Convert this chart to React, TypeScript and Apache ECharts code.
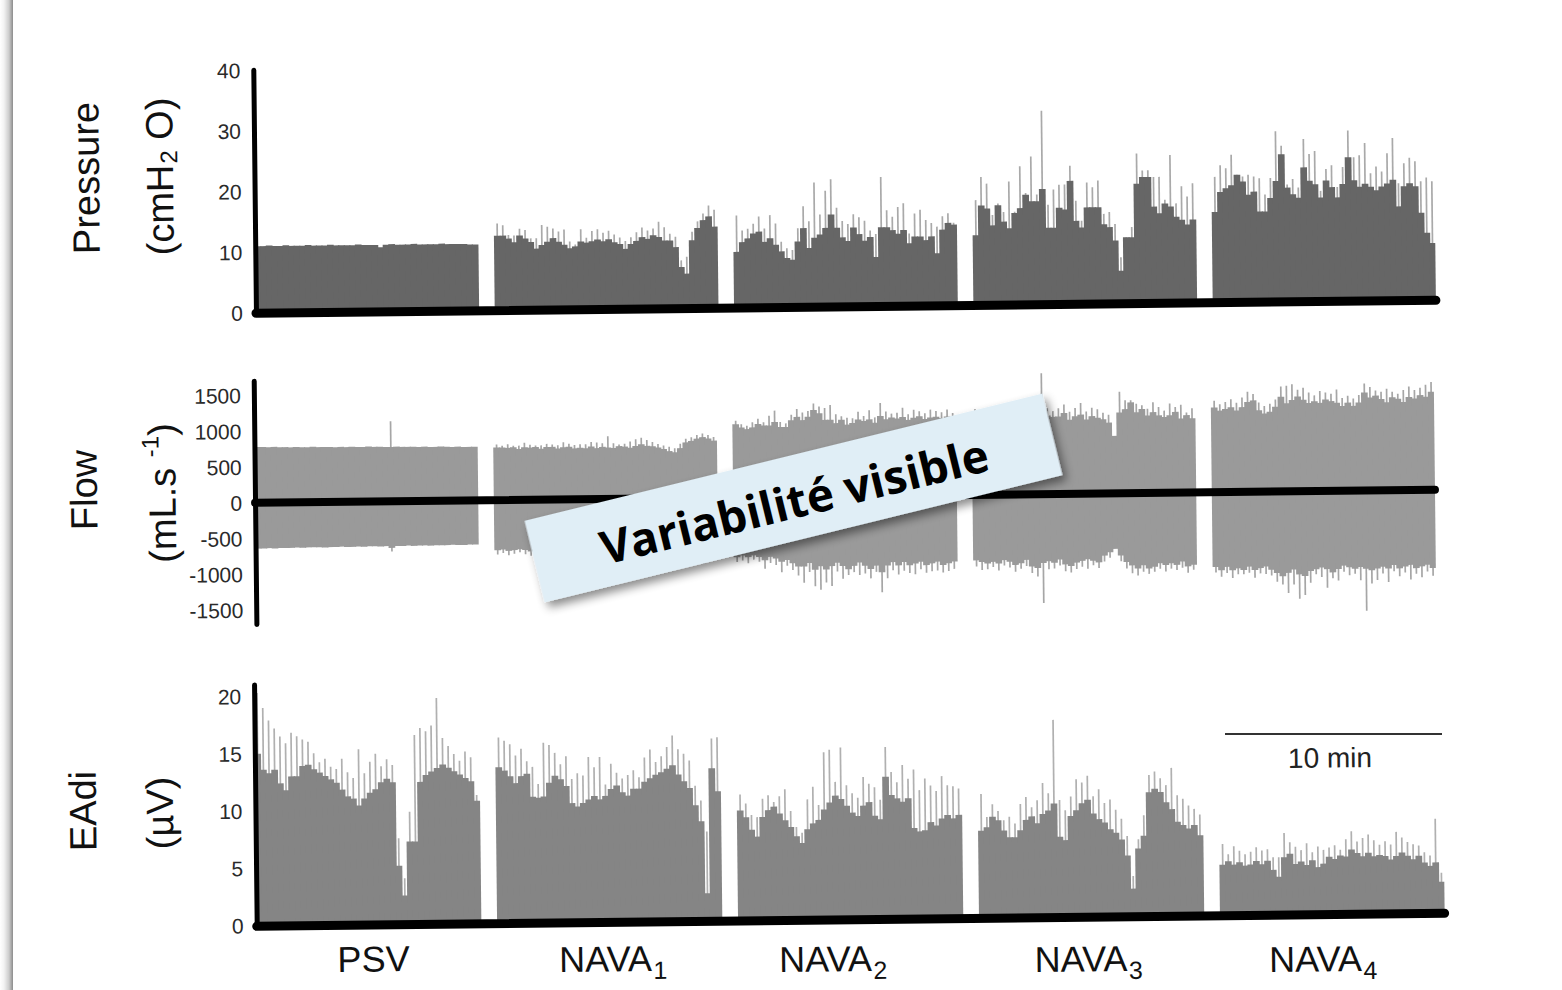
import React, { useEffect, useRef } from 'react';
import * as echarts from 'echarts';

// ---------------- data ----------------
const segmentNames = ['PSV', 'NAVA', 'NAVA', 'NAVA', 'NAVA'];
const segmentSubscripts = ['', '1', '2', '3', '4'];
const pressureTicks = [0, 10, 20, 30, 40];
const flowTicks = [-1500, -1000, -500, 0, 500, 1000, 1500];
const eadiTicks = [0, 5, 10, 15, 20];
const scaleBarText = '10 min';
const annotationText = 'Variabilité visible';

// Pressure (cmH2O): envelope per breath group, and light spikes above it
const pressureBase = [
  [11.0,11.0,11.1,11.0,11.0,11.1,11.0,11.0,11.0,11.1,11.0,11.0,11.0,11.1,11.0,11.0,11.0,11.0,11.1,11.0,11.0,11.0,10.6,11.0,11.1,11.0,11.0,11.0,11.1,11.0,11.0,11.0,11.0,11.1,11.0,11.0,11.0,11.0,10.9,10.9],
  [12.3,12.3,11.8,11.2,12.3,11.8,11.2,10.1,10.7,11.2,11.8,11.2,10.7,10.1,10.4,11.2,11.0,11.2,11.5,11.2,11.5,11.0,10.7,9.9,10.7,11.2,11.8,11.5,12.1,11.8,11.2,11.2,10.1,6.8,5.7,11.2,13.2,14.5,15.1,13.4],
  [9.2,10.8,11.4,12.2,12.5,10.8,11.4,10.3,9.2,8.1,7.8,10.8,13.0,9.7,11.4,11.9,13.0,15.2,13.0,11.4,10.8,13.0,11.9,10.8,11.4,8.1,13.0,13.0,12.5,11.9,12.5,10.3,11.4,11.4,10.8,11.4,8.6,12.5,13.6,13.3],
  [11.5,16.4,15.9,13.1,16.4,13.7,12.6,15.1,15.9,18.1,17.0,17.0,19.0,12.6,12.6,15.9,15.6,20.3,13.7,12.6,15.9,15.9,15.9,13.1,12.6,10.4,5.4,10.9,10.9,19.7,20.8,20.8,15.9,14.8,16.4,15.9,14.2,13.7,12.9,13.7],
  [14.9,18.2,18.8,19.3,21.0,19.9,17.7,18.2,14.9,14.9,17.1,19.9,24.3,18.8,17.7,17.1,22.1,19.9,19.3,17.1,19.9,18.8,17.1,19.3,23.7,19.9,18.8,19.3,18.8,18.2,18.8,19.3,19.9,15.5,18.8,19.3,18.8,14.4,11.1,9.4],
];
const pressurePeak = [
  [null,null,null,null,null,null,null,null,null,null,null,null,null,null,null,null,null,null,null,null,null,null,null,null,null,null,null,null,null,null,null,null,null,null,null,null,null,null,null,null],
  [14.3,14.0,12.4,12.3,13.4,13.2,11.8,11.8,14.0,13.7,13.4,12.9,13.2,11.2,10.7,13.2,11.8,12.9,13.2,12.6,12.9,12.3,11.8,11.2,11.8,12.6,13.4,12.9,13.2,14.3,13.4,12.3,11.8,7.9,8.5,12.6,14.3,15.6,16.9,16.2],
  [15.2,12.7,13.0,13.8,15.0,13.0,15.2,13.8,10.8,9.7,9.4,13.0,16.6,14.1,20.5,15.2,19.1,21.0,16.3,14.1,13.6,15.2,14.7,14.1,12.5,11.9,21.3,15.8,14.7,16.3,16.9,11.9,15.2,15.8,14.1,13.6,13.0,14.7,15.2,13.6],
  [17.3,21.1,20.0,14.8,16.7,15.3,20.3,15.3,22.8,18.4,24.4,18.1,31.9,16.4,18.9,19.7,19.7,22.8,17.0,13.7,20.0,19.2,20.3,14.8,15.1,13.1,7.6,10.9,12.6,24.7,21.9,21.9,20.8,20.8,17.0,24.4,16.4,19.2,17.5,19.7],
  [20.7,22.6,22.1,24.3,21.0,20.7,21.0,20.7,20.4,17.7,20.4,28.1,25.7,19.3,20.2,18.8,26.8,24.3,24.8,18.2,21.8,22.4,18.8,22.1,28.1,23.7,24.0,26.0,21.0,22.1,21.3,24.3,26.8,19.3,22.6,23.5,22.9,19.6,20.2,19.6],
];

// Flow (mL/s): inspiratory (positive) and expiratory (negative) envelopes and spikes
const flowPos = [
  [780,780,775,780,775,775,770,775,770,770,775,770,770,770,765,770,765,770,765,765,770,765,765,760,760,765,760,760,760,755,760,755,755,760,755,750,755,750,750,750],
  [737,737,730,737,713,737,730,737,713,737,737,713,730,737,713,720,713,737,713,730,720,713,737,730,713,737,760,737,730,713,690,660,644,700,780,800,830,850,830,800],
  [1026,979,956,979,1026,1003,1003,1050,979,979,1073,1119,1073,1119,1212,1166,1073,1073,1026,1073,1003,1026,1073,1050,1073,1026,1119,1073,1096,1080,1100,1060,1090,1110,1070,1090,1100,1080,1100,1090],
  [1100,1120,1080,1100,1130,1090,1110,1080,1120,1100,1140,1090,1150,1100,1080,1084,1131,1038,1084,1107,1038,1084,1061,1038,991,805,1131,1177,1270,1131,1177,1084,1131,1084,1061,1084,1131,1038,1084,1038],
  [1187,1141,1164,1187,1141,1187,1257,1280,1141,1094,1117,1187,1327,1234,1280,1327,1280,1234,1257,1234,1280,1257,1234,1187,1234,1187,1234,1373,1303,1327,1280,1234,1303,1280,1234,1303,1280,1327,1303,1373],
];
const flowPosPeak = [
  [null,null,null,null,null,null,null,null,null,null,null,null,null,null,null,null,null,null,null,null,null,null,null,null,1120,null,null,null,null,null,null,null,null,null,null,null,null,null,null,null],
  [780,760,780,760,760,800,770,760,760,780,770,760,800,780,760,770,770,800,790,780,876,780,760,770,800,830,850,820,790,760,740,720,700,760,830,850,880,900,880,850],
  [1073,1026,1003,1050,1100,1050,1140,1210,1050,1030,1150,1230,1180,1200,1305,1260,1240,1280,1150,1120,1100,1090,1180,1120,1200,1100,1300,1180,1150,1160,1230,1140,1200,1180,1150,1200,1180,1160,1200,1150],
  [1200,1180,1150,1220,1200,1170,1250,1160,1230,1180,1250,1300,1690,1200,1160,1200,1250,1150,1200,1270,1150,1200,1180,1130,1100,null,1420,1300,1300,1250,1230,1180,1270,1200,1150,1250,1200,1230,1120,1180],
  [1280,1230,1260,1300,1250,1320,1400,1370,1250,1200,1230,1290,1470,1480,1500,1420,1450,1380,1340,1400,1380,1360,1420,1300,1330,1290,1340,1500,1450,1400,1380,1420,1380,1350,1400,1450,1400,1430,1470,1510],
];
const flowNeg = [
  [-640,-640,-635,-640,-635,-635,-635,-630,-635,-630,-630,-630,-635,-630,-630,-625,-630,-630,-625,-630,-625,-625,-630,-625,-650,-625,-625,-620,-625,-620,-620,-625,-620,-620,-620,-615,-620,-620,-615,-615],
  [-700,-690,-710,-700,-690,-700,-720,-700,-690,-700,-700,-690,-700,-710,-690,-700,-700,-710,-690,-700,-700,-690,-710,-700,-690,-700,-720,-700,-690,-700,-680,-660,-650,-700,-760,-780,-800,-820,-800,-780],
  [-834,-810,-834,-810,-834,-880,-834,-857,-903,-880,-926,-973,-973,-926,-1020,-973,-1020,-973,-926,-973,-1020,-973,-926,-973,-1020,-973,-1066,-973,-926,-973,-926,-973,-950,-926,-973,-950,-926,-973,-950,-926],
  [-915,-938,-961,-938,-961,-915,-938,-984,-961,-915,-1008,-1031,-961,-938,-961,-915,-984,-1008,-961,-938,-915,-938,-961,-868,-822,-775,-868,-961,-1008,-1054,-1008,-1054,-1031,-984,-1008,-984,-1008,-961,-1031,-1008],
  [-1044,-1091,-1044,-1091,-1067,-1091,-1044,-1091,-1067,-1044,-1091,-1137,-1184,-1137,-1091,-1160,-1184,-1114,-1091,-1067,-1091,-1137,-1091,-1044,-1067,-1091,-1067,-1091,-1114,-1091,-1067,-1091,-1044,-1091,-1067,-1044,-1091,-1067,-1044,-1091],
];
const flowNegPeak = [
  [null,null,null,null,null,null,null,null,null,null,null,null,null,null,null,null,null,null,null,null,null,null,null,null,-700,null,null,null,null,null,null,null,null,null,null,null,null,null,null,null],
  [-760,-740,-770,-750,-730,-760,-780,-750,-740,-760,-750,-740,-770,-760,-740,-750,-760,-770,-740,-750,-760,-740,-770,-750,-740,-760,-780,-750,-740,-760,-730,-710,-700,-760,-830,-860,-900,-920,-880,-850],
  [-900,-880,-920,-870,-900,-1000,-920,-950,-1050,-960,-1020,-1100,-1200,-1050,-1250,-1300,-1200,-1250,-1050,-1150,-1100,-1060,-1100,-1080,-1150,-1060,-1345,-1150,-1040,-1100,-1050,-1080,-1100,-1030,-1080,-1060,-1050,-1080,-1060,-1030],
  [-1000,-1050,-1040,-1010,-1060,-990,-1020,-1080,-1040,-1000,-1100,-1150,-1520,-1050,-1040,-1000,-1080,-1100,-1050,-1020,-1050,-1000,-1040,-950,-900,null,-950,-1050,-1120,-1150,-1100,-1130,-1100,-1060,-1100,-1060,-1080,-1050,-1120,-1080],
  [-1120,-1180,-1130,-1200,-1150,-1150,-1130,-1200,-1140,-1150,-1170,-1260,-1300,-1420,-1300,-1500,-1450,-1280,-1160,-1200,-1350,-1220,-1250,-1130,-1180,-1160,-1250,-1680,-1300,-1250,-1160,-1280,-1130,-1200,-1150,-1250,-1170,-1220,-1140,-1200],
];

// EAdi (µV)
const eadiBase = [
  [15.0,13.6,13.3,13.6,12.4,11.8,13.0,13.0,13.9,14.0,13.6,13.3,13.0,12.7,12.4,11.8,11.2,11.0,10.4,11.0,11.5,11.8,12.4,12.7,12.4,5.1,2.5,7.2,7.2,12.4,13.0,13.3,13.6,13.9,13.6,13.3,13.0,12.7,12.4,10.7],
  [13.6,13.3,12.8,12.2,12.8,13.0,11.0,10.9,11.0,12.2,12.8,12.5,11.9,10.4,10.1,10.4,10.7,11.0,10.7,11.0,11.6,11.9,11.3,11.0,11.6,11.6,12.2,12.5,12.8,13.0,13.3,13.6,12.8,12.2,11.6,10.1,8.7,2.4,13.3,11.3],
  [9.6,9.0,7.9,7.3,9.0,9.6,9.9,9.3,8.7,8.1,7.3,6.7,7.9,8.4,8.7,9.6,10.2,10.8,10.5,9.9,9.3,9.0,9.9,10.2,9.0,8.7,12.4,10.8,10.5,10.2,10.5,7.9,7.6,7.7,8.4,8.1,8.7,9.0,8.7,9.0],
  [7.6,7.9,8.8,8.5,7.6,7.0,7.0,7.6,8.5,8.8,8.2,9.0,9.3,9.9,7.0,6.7,8.8,9.3,9.9,10.2,9.0,8.5,8.2,7.6,7.3,6.7,5.3,2.4,5.9,7.0,10.8,11.1,10.8,9.9,9.3,8.2,7.9,7.6,7.9,7.0],
  [4.4,4.7,4.4,4.6,4.3,4.4,4.7,4.4,4.7,3.9,3.3,5.0,5.3,4.4,4.6,4.3,4.7,4.1,4.4,5.0,4.8,5.1,5.0,5.6,5.3,5.0,5.3,5.0,5.1,5.0,4.7,5.0,5.3,5.0,4.7,5.0,4.4,4.1,4.4,2.7],
];
const eadiPeak = [
  [20.3,19.0,17.9,17.2,16.5,15.9,16.8,16.5,16.2,16.0,15.0,14.2,14.5,13.8,13.6,14.5,13.3,12.8,15.3,13.2,14.2,14.9,13.8,14.4,13.9,7.5,4.0,9.8,16.5,17.1,16.8,17.3,19.7,16.2,15.5,14.8,14.2,15.0,14.5,11.2],
  [16.2,15.9,15.6,14.6,15.2,14.1,13.6,12.1,15.7,15.5,14.8,13.8,14.5,12.5,13.0,12.8,14.4,13.5,14.4,12.0,13.8,13.0,12.5,12.8,13.2,12.6,14.3,15.0,13.9,14.4,15.2,16.2,15.0,14.6,14.0,11.8,10.5,7.8,15.9,16.0],
  [11.0,10.2,9.2,9.0,10.6,10.9,10.3,10.8,11.4,9.5,8.1,7.6,10.5,11.6,10.0,14.6,14.8,12.0,15.0,11.7,11.0,10.6,12.4,11.8,11.5,10.4,15.0,12.8,11.9,13.4,12.2,13.0,11.2,12.2,11.6,11.1,12.4,11.6,11.5,11.3],
  [10.8,8.8,9.9,9.3,8.5,8.8,8.2,9.9,10.5,9.6,10.2,11.7,10.8,17.2,10.2,9.3,10.5,12.0,11.7,12.3,10.5,11.1,9.9,10.2,9.3,8.5,7.0,3.5,6.7,8.8,12.3,12.6,12.0,11.4,12.9,10.5,10.2,9.6,9.3,8.8],
  [6.2,5.3,6.0,5.6,5.3,5.5,5.9,5.6,5.7,5.0,5.0,7.1,6.3,5.9,5.6,6.2,5.4,5.9,5.6,5.8,6.0,5.6,6.5,7.2,6.3,6.6,6.9,6.4,6.0,6.3,6.0,7.1,6.6,6.2,6.0,5.9,5.3,5.0,8.2,3.5],
];

// ---------------- layout helpers ----------------
const FONT = '"Liberation Sans", Arial, Helvetica, sans-serif';
const GAP = 3; // empty categories between protocol periods
const TILT_DEG = 0.63; // the original figure's baselines rise slightly to the right
const A = (TILT_DEG * Math.PI) / 180;
const CX = 781;
const CY = 495;
// screen position -> chart-frame position (chart div is rotated by -TILT_DEG)
const toFrame = (x: number, y: number): [number, number] => [
  CX + (x - CX) * Math.cos(A) - (y - CY) * Math.sin(A),
  CY + (x - CX) * Math.sin(A) + (y - CY) * Math.cos(A),
];

function joinSegments(segs: (number | null)[][]): (number | null)[] {
  const out: (number | null)[] = [];
  segs.forEach((s, k) => {
    if (k > 0) for (let g = 0; g < GAP; g++) out.push(null);
    out.push(...s);
  });
  return out;
}

function buildOption() {
  const total = pressureBase.reduce((n, s) => n + s.length, 0) + GAP * (pressureBase.length - 1);
  const cats = Array.from({ length: total }, (_, i) => String(i));

  const grids = [
    { left: 258, width: 1180, top: 64.6, height: 242.6 },
    { left: 255, width: 1180, top: 375.5, height: 243.2 },
    { left: 252, width: 1188, top: 679.3, height: 240.7 },
  ];

  const mainX = (g: number) => ({
    type: 'category', gridIndex: g, data: cats, position: 'bottom', boundaryGap: true, z: 10,
    axisLine: { show: true, onZero: true, lineStyle: { color: '#000', width: g === 1 ? 8 : 9 } },
    axisTick: { show: false }, axisLabel: { show: false }, splitLine: { show: false },
  });
  const peakX = (g: number) => ({ type: 'category', gridIndex: g, data: cats, position: 'top', show: false });

  const yAx = (g: number, extra: any, ticks: number[]) => ({
    type: 'value', gridIndex: g, z: 10, ...extra,
    axisLine: { show: true, lineStyle: { color: '#000', width: 5 } },
    axisTick: { show: false }, splitLine: { show: false },
    axisLabel: {
      color: '#2a2a2a', fontSize: 21, fontFamily: FONT, margin: 13,
      formatter: (v: number) => (ticks.includes(v) ? String(v) : ''),
    },
  });

  const thin = 1.7;
  const wide = 6.7; // slightly wider than one category so neighbouring bars merge without seams
  const series: any[] = [
    { type: 'bar', xAxisIndex: 1, yAxisIndex: 0, data: joinSegments(pressurePeak), barWidth: thin, itemStyle: { color: '#a9a9a9' }, z: 1, silent: true },
    { type: 'bar', xAxisIndex: 0, yAxisIndex: 0, data: joinSegments(pressureBase), barWidth: wide, itemStyle: { color: '#666' }, z: 2, silent: true },

    { type: 'bar', xAxisIndex: 3, yAxisIndex: 1, stack: 'fp', data: joinSegments(flowPosPeak), barWidth: thin, itemStyle: { color: '#a6a6a6' }, z: 1, silent: true },
    { type: 'bar', xAxisIndex: 3, yAxisIndex: 1, stack: 'fp', data: joinSegments(flowNegPeak), barWidth: thin, itemStyle: { color: '#a6a6a6' }, z: 1, silent: true },
    { type: 'bar', xAxisIndex: 2, yAxisIndex: 1, stack: 'fb', data: joinSegments(flowPos), barWidth: wide, itemStyle: { color: '#9a9a9a' }, z: 2, silent: true },
    { type: 'bar', xAxisIndex: 2, yAxisIndex: 1, stack: 'fb', data: joinSegments(flowNeg), barWidth: wide, itemStyle: { color: '#9a9a9a' }, z: 2, silent: true },

    { type: 'bar', xAxisIndex: 5, yAxisIndex: 2, data: joinSegments(eadiPeak), barWidth: thin, itemStyle: { color: '#b0b0b0' }, z: 1, silent: true },
    { type: 'bar', xAxisIndex: 4, yAxisIndex: 2, data: joinSegments(eadiBase), barWidth: wide, itemStyle: { color: '#858585' }, z: 2, silent: true },
  ];

  // ---------- texts & decorations ----------
  const txt = (text: string, x: number, y: number, size: number, align = 'center', extra: any = {}) => ({
    type: 'text', x, y, z: 50,
    style: { text, fontSize: size, fontFamily: FONT, fill: '#111', align, verticalAlign: 'middle', ...extra },
  });
  const vGroup = (sx: number, sy: number, children: any[]) => {
    const [x, y] = toFrame(sx, sy);
    return { type: 'group', x, y, rotation: Math.PI / 2, z: 50, children };
  };
  const at = (sx: number, sy: number, text: string, size: number, align = 'center', extra: any = {}) => {
    const [x, y] = toFrame(sx, sy);
    return txt(text, x, y, size, align, extra);
  };

  const graphics: any[] = [
    vGroup(86, 178, [txt('Pressure', 0, 0, 38)]),
    vGroup(160, 177, [
      txt('(cmH', -78.4, 0, 38, 'left'),
      txt('2', 13.3, 9, 24, 'left'),
      txt('O)', 37.2, 0, 38, 'left'),
    ]),
    vGroup(84, 490, [txt('Flow', 0, 0, 38)]),
    vGroup(162.5, 493, [
      txt('(mL.s', -69.8, 0, 38, 'left'),
      txt('-1', 35.8, -12, 24, 'left'),
      txt(')', 57.1, 0, 38, 'left'),
    ]),
    vGroup(83, 811, [txt('EAdi', 0, 0, 38)]),
    vGroup(160, 813, [txt('(µV)', 0, 0, 38)]),
  ];

  const labelCenters = [373.5, 612.5, 832.5, 1088, 1322.5];
  segmentNames.forEach((name, k) => {
    const c = labelCenters[k];
    if (!segmentSubscripts[k]) {
      graphics.push(at(c, 959, name, 36));
    } else {
      graphics.push(at(c - 7, 959, name, 36));
      graphics.push(at(c + 41, 970, segmentSubscripts[k], 25, 'left'));
    }
  });

  // 10 min scale bar
  const [l1x, l1y] = toFrame(1225, 734);
  const [l2x, l2y] = toFrame(1442, 734);
  graphics.push({ type: 'line', z: 50, shape: { x1: l1x, y1: l1y, x2: l2x, y2: l2y }, style: { stroke: '#333', lineWidth: 2 } });
  graphics.push(at(1330, 758, scaleBarText, 28, 'center', { fill: '#222' }));

  // annotation box
  const [bx, by] = toFrame(793.5, 498);
  graphics.push({
    type: 'group', x: bx, y: by, rotation: ((13.8 - TILT_DEG) * Math.PI) / 180, z: 100,
    children: [
      {
        type: 'rect', z: 100,
        shape: { x: -266.5, y: -42, width: 533, height: 84 },
        style: { fill: '#e0eef6', shadowBlur: 10, shadowOffsetX: 3, shadowOffsetY: 6, shadowColor: 'rgba(0,0,0,0.45)' },
      },
      {
        type: 'text', z: 101, x: 0, y: 2,
        style: { text: annotationText, fontSize: 46, fontWeight: 'bold', fontFamily: '"Open Sans", sans-serif', fill: '#000', align: 'center', verticalAlign: 'middle' },
      },
    ],
  });

  return {
    animation: false,
    backgroundColor: 'transparent',
    grid: grids,
    xAxis: [mainX(0), peakX(0), mainX(1), peakX(1), mainX(2), peakX(2)],
    yAxis: [
      yAx(0, { min: 0, max: 40, interval: 10 }, pressureTicks),
      yAx(1, { min: -1700, max: 1700, splitNumber: 7 }, flowTicks),
      yAx(2, { min: 0, max: 21, interval: 5 }, eadiTicks),
    ],
    series,
    graphic: graphics,
  };
}

export default function App() {
  const ref = useRef<HTMLDivElement>(null);
  useEffect(() => {
    if (!ref.current) return;
    const chart = echarts.init(ref.current, null, { renderer: 'svg' });
    chart.setOption(buildOption() as any);
    return () => chart.dispose();
  }, []);
  return (
    <div style={{ position: 'fixed', left: 0, top: 0, width: 1562, height: 990, background: '#fff', overflow: 'hidden' }}>
      <div
        ref={ref}
        style={{ position: 'absolute', left: 0, top: 0, width: 1562, height: 990, transform: `rotate(-${TILT_DEG}deg)`, transformOrigin: `${CX}px ${CY}px` }}
      />
      <div
        style={{
          position: 'absolute', left: 0, top: 0, width: 14, height: 990,
          background: 'linear-gradient(to right, rgba(0,0,0,0) 0px, rgba(0,0,0,0.05) 4px, rgba(0,0,0,0.2) 9px, rgba(0,0,0,0.42) 12.5px, rgba(0,0,0,0) 13px)',
        }}
      />
    </div>
  );
}
